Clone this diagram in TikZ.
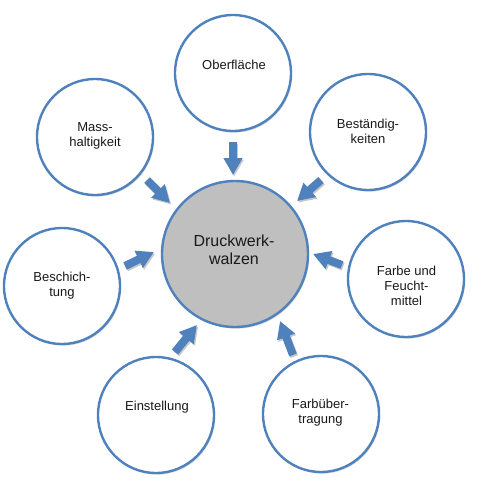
\documentclass[tikz,border=0pt]{standalone}
\usepackage{fontspec}
\setmainfont{Liberation Sans}
\usetikzlibrary{arrows.meta,shadows}
\definecolor{accblue}{HTML}{4F81BD}
\definecolor{midgray}{HTML}{BFBFBF}
\tikzset{
  outer/.style={circle, draw=accblue, line width=2.4pt, fill=white, minimum size=116pt, inner sep=0pt,
    drop shadow={shadow xshift=1.2pt, shadow yshift=-1.6pt, opacity=0.35, fill=black!45}},
  hub/.style={circle, draw=accblue, line width=2.4pt, fill=midgray, minimum size=146pt, inner sep=0pt,
    drop shadow={shadow xshift=1.2pt, shadow yshift=-1.6pt, opacity=0.35, fill=black!45}},
  otext/.style={align=center, font=\fontsize{13pt}{15pt}\selectfont, text=black!90, inner sep=0pt},
  htext/.style={align=center, font=\fontsize{16pt}{18pt}\selectfont, text=black!90, inner sep=0pt},
  blockarrow/.style={draw=accblue, line width=8pt, -{Triangle[width=18pt,length=17pt]}},
  shadowarrow/.style={draw=black!22, line width=8pt, -{Triangle[width=18pt,length=17pt]}},
}
\begin{document}
\begin{tikzpicture}[x=1pt,y=-1pt]
\useasboundingbox (0,0) rectangle (480,484);
% circles
\node[hub]   (hub) at (235,254) {};
\node[outer] (c1) at (233,73) {};
\node[outer] (c2) at (368,132) {};
\node[outer] (c3) at (406,279) {};
\node[outer] (c4) at (321,414) {};
\node[outer] (c5) at (156,415) {};
\node[outer] (c6) at (62,286) {};
\node[outer] (c7) at (95,137) {};
% texts
\node[htext] (th) at (234,250) {Druckwerk-\\walzen};
\node[otext] (t1) at (234,64.5) {Oberfläche};
\node[otext] (t2) at (368,131.5) {Beständig-\\keiten};
\node[otext] (t3) at (406.5,285.5) {Farbe und\\Feucht-\\mittel};
\node[otext] (t4) at (320.5,413) {Farbüber-\\tragung};
\node[otext] (t5) at (157,407.5) {Einstellung};
\node[otext] (t6) at (62,286) {Beschich-\\tung};
\node[otext] (t7) at (95,136) {Mass-\\haltigkeit};
% arrow end points
\coordinate (a1s) at (233,142); \coordinate (a1e) at (233,175);
\coordinate (a2s) at (321,180); \coordinate (a2e) at (297,201);
\coordinate (a3s) at (342,265); \coordinate (a3e) at (313,254);
\coordinate (a4s) at (293,355); \coordinate (a4e) at (280,321);
\coordinate (a5s) at (175,352); \coordinate (a5e) at (197,325);
\coordinate (a6s) at (125,266); \coordinate (a6e) at (154,252);
\coordinate (a7s) at (147,180); \coordinate (a7e) at (170,203);
% arrow shadows
\foreach \i in {1,...,7}{
  \draw[shadowarrow] ([shift={(1.2,1.6)}]a\i s) -- ([shift={(1.2,1.6)}]a\i e);
}
% arrows
\foreach \i in {1,...,7}{
  \draw[blockarrow] (a\i s) -- (a\i e);
}
\end{tikzpicture}
\end{document}
